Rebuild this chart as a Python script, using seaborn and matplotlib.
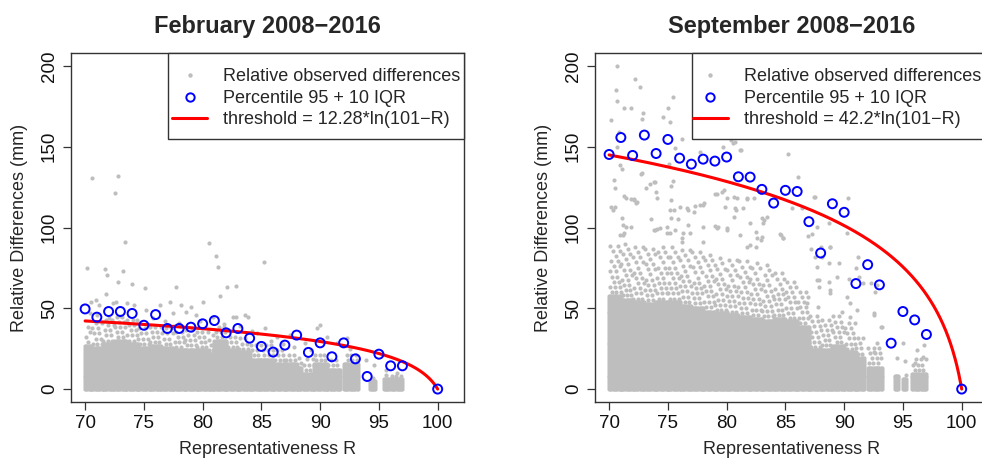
import numpy as np
import pandas as pd
import matplotlib
matplotlib.use('Agg')
import matplotlib.pyplot as plt
import seaborn as sns
from matplotlib.lines import Line2D
from matplotlib.patches import Rectangle

sns.set_style('ticks')
plt.rcParams['font.family'] = ['Liberation Sans', 'DejaVu Sans']

GREY = '#BEBEBE'

# Percentile 95 + 10 IQR points (one per R class)
perc_r = [70, 71, 72, 73, 74, 75, 76, 77, 78, 79, 80, 81, 82, 83, 84,
          85, 86, 87, 88, 89, 90, 91, 92, 93, 94, 95, 96, 97, 100]
feb_perc = [49.6, 44.5, 48.0, 48.0, 46.8, 39.5, 46.1, 37.5, 37.5, 38.3, 40.4, 42.4, 34.8, 37.5, 31.5,
            26.4, 22.9, 27.2, 33.4, 22.7, 28.6, 20.0, 28.6, 18.7, 7.8, 21.6, 14.4, 14.4, 0.0]
sep_perc = [145.2, 155.7, 144.6, 157.2, 145.8, 154.5, 142.9, 139.2, 142.3, 141.1, 143.6, 131.4, 131.2, 123.6, 115.1,
            123.0, 122.3, 103.6, 84.2, 114.7, 109.4, 65.3, 77.0, 64.5, 28.4, 48.0, 42.8, 33.8, 0.0]

# threshold = coef * ln(101 - R), coefficients as printed in the legends
feb_coef = 12.28
sep_coef = 42.2

# grey cloud, February: R segments, top of the solid band, top of the looser band
feb_seg_lo = [70.0, 70.5, 71.5, 72.5, 73.5, 74.5, 75.5, 76.5, 77.5, 78.5, 79.5, 80.5, 81.0, 82.0,
              83.0, 84.0, 85.0, 86.0, 87.0, 88.0, 88.5, 89.5, 90.6, 92.0, 94.2, 95.4, 96.0]
feb_seg_hi = [70.5, 71.5, 72.5, 73.5, 74.5, 75.5, 76.5, 77.5, 78.5, 79.5, 80.5, 81.0, 82.0, 83.0,
              84.0, 85.0, 86.0, 87.0, 88.0, 88.4, 89.5, 90.6, 91.7, 93.2, 94.7, 95.9, 97.0]
feb_solid_top = [27, 26, 28, 30, 28, 26, 27, 26, 24, 25, 24, 22, 30, 24,
                 23, 19, 19, 16, 16, 14, 10, 16, 13, 16, 5, 7, 6]
feb_loose_top = [40, 42, 44, 45, 43, 40, 41, 40, 39, 38, 37, 35, 39, 35,
                 33, 30, 28, 25, 24, 21, 20, 23, 20, 24, 7, 10, 9]
# scattered points above the bands
feb_out_r = [70.6, 72.8, 72.55, 73.4, 70.2, 71.7, 71.9, 73.2, 72.8, 74.0, 71.8, 75.1, 77.7, 80.5,
             81.1, 81.3, 82.1, 82.8, 81.5, 85.2, 80.0, 77.2, 76.4, 78.2, 79.0, 83.6, 83.9, 82.8,
             89.7, 90.0, 92.3, 92.5, 85.3, 70.5, 70.9, 71.2, 72.4, 72.6, 73.6, 74.2, 75.2, 78.6,
             79.4, 80.9, 82.6, 84.6, 86.3, 87.4, 88.7, 90.6, 91.4, 93.9, 94.6, 95.6, 96.5,
             70.4, 71.0, 72.0, 73.0, 74.4, 75.8, 76.8, 77.5, 78.0, 79.8, 81.8, 83.2, 84.2, 85.8,
             86.8, 87.8, 89.2]
feb_out_v = [130.4, 131.8, 121.1, 91.0, 74.8, 74.2, 70.6, 73.1, 66.5, 64.9, 58.7, 62.8, 63.0, 90.2,
             82.4, 75.8, 63.4, 63.9, 57.3, 78.5, 54.2, 53.6, 52.1, 52.1, 50.5, 45.9, 44.3, 44.3,
             37.7, 39.8, 31.5, 24.7, 38.1, 54.2, 55.2, 52.1, 53.1, 54.2, 53.1, 52.1, 49.0, 48.0,
             45.9, 44.9, 44.9, 34.6, 32.5, 33.6, 28.4, 32.5, 28.4, 18.1, 15.0, 11.9, 9.9,
             47.0, 46.0, 44.0, 45.0, 43.0, 44.0, 42.0, 47.0, 41.0, 42.0, 40.0, 39.0, 36.0, 30.0,
             28.0, 26.0, 24.0]

# grey cloud, September
sep_seg_lo = [70.0, 71.0, 72.0, 73.0, 74.0, 75.0, 76.0, 77.0, 78.0, 79.0, 80.0, 81.0, 82.0,
              83.0, 84.0, 85.0, 86.0, 87.0, 88.0, 89.0, 90.0, 91.0, 92.0, 94.3, 95.0, 95.8]
sep_seg_hi = [71.0, 72.0, 73.0, 74.0, 75.0, 76.0, 77.0, 78.0, 79.0, 80.0, 81.0, 82.0, 83.0,
              84.0, 85.0, 86.0, 87.0, 88.0, 89.0, 90.0, 91.0, 91.7, 93.2, 94.6, 95.3, 97.0]
sep_solid_top = [58, 56, 54, 53, 54, 54, 52, 51, 49, 47, 46, 45, 44,
                 43, 44, 42, 39, 24, 25, 27, 23, 20, 14, 9, 7, 10]
sep_loose_top = [90, 92, 90, 88, 88, 90, 88, 88, 86, 84, 82, 82, 80,
                 77, 74, 67, 62, 47, 44, 46, 42, 32, 27, 13, 11, 20]
sep_out_r = [70.7, 72.2, 72.6, 70.6, 70.7, 71.3, 71.9, 72.9, 72.8, 70.2, 75.4, 75.0, 74.6, 75.2,
             70.8, 75.6, 76.2, 77.7, 78.9, 80.5, 81.2, 77.7, 75.1, 70.9, 71.1, 72.7, 70.4, 73.8,
             73.5, 75.4, 75.3, 70.5, 71.4, 72.1, 79.0, 79.6, 80.0, 80.9, 81.7,
             70.3, 70.2, 71.1, 71.3, 71.9, 72.3, 74.1, 71.2, 71.9, 70.9, 71.3, 76.0, 76.7, 77.3,
             78.0, 75.2, 75.3, 75.9, 73.6, 73.8, 74.1, 74.9, 75.2, 76.7, 76.9, 76.2, 79.0, 79.3,
             80.0, 78.0, 80.6, 80.7, 80.6, 82.0, 83.0, 83.1, 82.5, 82.9, 82.0, 82.5,
             85.25, 86.1, 87.5, 90.3, 85.6, 88.7, 87.7, 87.3, 86.9, 84.5, 84.8, 88.8, 87.2, 87.5,
             88.7, 91.2, 91.0, 90.4, 92.3, 92.6, 92.8, 87.7, 87.9, 88.7, 88.8, 86.8, 87.8, 90.2,
             90.5, 89.8, 90.5, 91.1, 92.5, 93.1, 92.8, 92.5, 95.0, 94.5, 95.2, 96.2, 96.8, 96.7, 96.0,
             81.1, 81.7, 82.6, 83.0, 83.4, 83.2, 84.6, 84.8, 81.7, 81.4, 80.8, 81.1, 80.7, 80.5,
             82.3, 84.1, 86.4, 87.4, 88.0, 88.8, 88.1, 87.7, 87.9, 89.6, 89.4, 88.8, 90.2, 91.3,
             91.6, 92.5, 93.2, 70.5, 71.2, 71.4, 72.1, 72.4, 74.0, 75.3, 75.5, 76.6, 77.2, 77.7,
             78.1, 79.2, 79.8, 79.9, 73.9, 74.3, 74.9, 75.6, 76.3, 78.0, 79.2, 80.0, 76.2, 73.1,
             72.8, 70.65, 78.6, 79.7, 80.4, 73.9, 77.2]
sep_out_v = [200.0, 192.0, 187.0, 185.0, 178.0, 173.7, 174.0, 170.6, 166.9, 166.4, 180.8, 174.0, 168.5, 165.4,
             159.2, 149.0, 155.0, 161.0, 156.0, 152.6, 148.0, 146.8, 139.0, 138.6, 136.0, 132.9, 129.4, 128.3,
             126.7, 128.7, 125.8, 124.2, 118.0, 117.6, 120.5, 122.0, 118.0, 118.0, 117.6,
             110.8, 112.9, 105.7, 119.5, 117.4, 115.0, 118.0, 101.5, 100.5, 95.4, 96.4, 112.8, 110.8, 113.3,
             113.9, 110.8, 105.7, 105.0, 105.0, 98.4, 98.9, 100.5, 96.4, 101.5, 96.4, 93.3, 101.0, 100.5,
             99.5, 91.2, 106.7, 111.9, 119.0, 102.6, 105.7, 102.6, 97.4, 92.3, 89.2, 88.1,
             145.4, 131.4, 118.7, 118.0, 111.9, 103.0, 100.5, 96.0, 94.7, 96.0, 93.3, 88.1, 86.5, 82.0,
             77.9, 81.6, 74.8, 68.0, 65.9, 60.3, 64.5, 67.6, 63.4, 66.5, 59.3, 53.2, 51.1, 57.2,
             53.2, 48.0, 44.9, 49.0, 45.9, 38.7, 28.4, 23.2, 28.4, 19.2, 17.1, 24.3, 27.4, 20.1, 16.1,
             95.4, 88.2, 93.3, 93.9, 106.7, 104.6, 95.4, 93.3, 118.0, 111.8, 110.8, 147.9, 153.0, 159.2,
             118.0, 119.0, 111.8, 119.0, 88.2, 88.2, 82.0, 75.8, 67.6, 77.9, 69.6, 61.4, 96.4, 69.6,
             65.5, 47.0, 38.7, 112.9, 95.4, 100.5, 117.0, 116.0, 122.0, 117.0, 110.8, 111.8, 109.8, 113.9,
             115.0, 121.0, 123.2, 112.9, 98.5, 99.5, 96.4, 98.5, 96.4, 100.5, 99.5, 98.5, 91.2, 124.2,
             133.5, 150.0, 156.0, 150.0, 154.0, 128.3, 202.5]


def build_cloud(seg_lo, seg_hi, solid_top, loose_top, out_r, out_v):
    xs, ys = [], []
    for j, (a, b, s, l) in enumerate(zip(seg_lo, seg_hi, solid_top, loose_top)):
        gx, gy = np.meshgrid(np.arange(a, b + 1e-9, 0.1), np.arange(0, s + 1e-9, 1.2))
        xs.append(gx.ravel())
        ys.append(gy.ravel())
        # looser part thins out slowly with height, rows shifted by golden-ratio steps
        for k, yv in enumerate(np.arange(s + 2.0, l + 1e-9, 3.2)):
            step = 0.38 + 0.03 * k
            shift = ((k + 1) * 0.618034 + j * 0.754878) % 1.0
            row = np.arange(a + shift * step, b, step)
            xs.append(row)
            ys.append(np.full_like(row, yv))
    xs.append(np.asarray(out_r, dtype=float))
    ys.append(np.asarray(out_v, dtype=float))
    return pd.DataFrame({'R': np.concatenate(xs), 'diff': np.concatenate(ys)})


def draw_panel(ax, title, cloud, perc, coef, leg_x):
    sns.scatterplot(data=cloud, x='R', y='diff', ax=ax, color=GREY, s=9,
                    linewidth=0, legend=False, zorder=1)
    r_grid = np.linspace(70, 100, 601)
    sns.lineplot(x=r_grid, y=coef * np.log(101 - r_grid), ax=ax, color='red',
                 lw=2.2, estimator=None, zorder=2)
    sns.scatterplot(x=perc_r, y=perc, ax=ax, s=42, legend=False, zorder=3)
    circles = ax.collections[-1]
    circles.set_facecolor('none')
    circles.set_edgecolor('blue')
    circles.set_linewidth(1.4)

    ax.set_xlim(68.8, 102.24)
    ax.set_ylim(-8, 208)
    ax.set_xticks([70, 75, 80, 85, 90, 95, 100])
    ax.set_yticks([0, 50, 100, 150, 200])
    for side in ['left', 'right', 'top', 'bottom']:
        ax.spines[side].set_visible(True)
        ax.spines[side].set_color('#333333')
        ax.spines[side].set_linewidth(1.0)
    ax.tick_params(direction='out', length=5.5, width=0.9, color='#333333',
                   labelsize=13.5, labelcolor='#111111', pad=4)
    ax.tick_params(axis='y', labelrotation=90)
    for lbl in ax.get_yticklabels():
        lbl.set_va('center')

    ax.set_xlabel('Representativeness R', fontsize=13)
    ax.xaxis.label.set_va('center')
    ax.xaxis.set_label_coords(0.5, -0.136)
    ax.set_ylabel('Relative Differences (mm)', fontsize=13)
    ax.yaxis.label.set_va('center')
    ax.yaxis.set_label_coords(-0.132, 0.5)
    ax.text(0.5, 1.077, title, transform=ax.transAxes, ha='center', va='center',
            fontsize=17, fontweight='bold')

    # legend box drawn on its own, entries placed inside it
    ax.add_patch(Rectangle((0.2468, 0.7536), 0.7532, 0.2464, transform=ax.transAxes,
                           facecolor='white', edgecolor='#333333', lw=1.0, zorder=4,
                           clip_on=False))
    handles = [
        Line2D([], [], ls='none', marker='o', ms=3.2, mfc=GREY, mec='none'),
        Line2D([], [], ls='none', marker='o', ms=6, mfc='none', mec='blue', mew=1.4),
        Line2D([], [], color='red', lw=2.2),
    ]
    labels = ['Relative observed differences', 'Percentile 95 + 10 IQR',
              f'threshold = {coef:g}*ln(101\u2212R)']
    leg = ax.legend(handles, labels, loc='upper left', bbox_to_anchor=(leg_x, 0.956),
                    borderaxespad=0, borderpad=0, frameon=False, fontsize=13,
                    handlelength=1.94, handletextpad=0.89, labelspacing=0.25)
    leg.set_zorder(5)


feb_cloud = build_cloud(feb_seg_lo, feb_seg_hi, feb_solid_top, feb_loose_top, feb_out_r, feb_out_v)
sep_cloud = build_cloud(sep_seg_lo, sep_seg_hi, sep_solid_top, sep_loose_top, sep_out_r, sep_out_v)

fig = plt.figure(figsize=(9.82, 4.59), dpi=100)
ax1 = fig.add_axes([71 / 982, 1 - 402 / 459, 393 / 982, 349 / 459])
ax2 = fig.add_axes([595 / 982, 1 - 402 / 459, 393 / 982, 349 / 459])

draw_panel(ax1, 'February 2008\u22122016', feb_cloud, feb_perc, feb_coef, 0.257)
draw_panel(ax2, 'September 2008\u22122016', sep_cloud, sep_perc, sep_coef, 0.249)

fig.savefig('out.png', dpi=100)
